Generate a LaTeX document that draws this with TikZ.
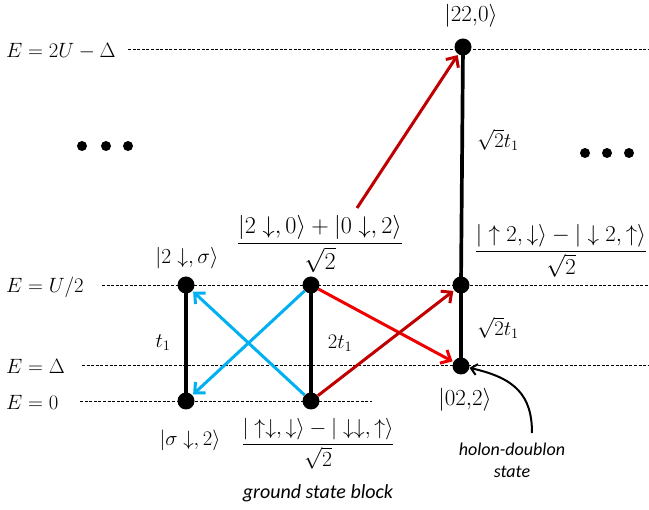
\RequirePackage{fix-cm}
\documentclass[tikz,border=0pt]{standalone}
\usepackage{amsmath}
\usepackage{fontspec}
\newfontfamily\calib{Carlito}
\usetikzlibrary{arrows.meta}
\definecolor{cblue}{HTML}{00B0F0}
\definecolor{cred}{HTML}{F00000}
\definecolor{dred}{HTML}{C00000}
\begin{document}
\begin{tikzpicture}[x=1pt,y=-1pt,
  every node/.style={font=\fontsize{20.7}{24}\selectfont},
  state/.style={circle,fill=black,inner sep=0pt,minimum size=17pt},
  level/.style={dash pattern=on 3pt off 1.6pt,line width=0.8pt},
  bond/.style={line width=3.7pt},
  hop/.style={line width=3pt,-{Straight Barb[length=8pt,width=15pt]},shorten >=1pt},
  frac/.style={inner sep=0pt},
  lbl/.style={font=\fontsize{18}{22}\selectfont\calib\itshape},
  dots/.style={circle,fill=black,inner sep=0pt,minimum size=10pt}]
\useasboundingbox (0,0) rectangle (649,510);
% level labels
\node[anchor=west,inner sep=0] (l1) at (6,51) {$E=2U-\Delta$};
\node[anchor=west,inner sep=0] (l2) at (6,287) {$E=U/2$};
\node[anchor=west,inner sep=0] (l3) at (6,366) {$E=\Delta$};
\node[anchor=west,inner sep=0] (l4) at (6,402) {$E=0$};
% dashed levels
\coordinate (d1a) at (128,49); \coordinate (d1b) at (649,49);
\coordinate (d2a) at (102,285); \coordinate (d2b) at (649,285);
\coordinate (d3a) at (82,365); \coordinate (d3b) at (649,365);
\coordinate (d4a) at (80,401); \coordinate (d4b) at (372,401);
\draw[level] (d1a) -- (d1b);
\draw[level] (d2a) -- (d2b);
\draw[level] (d3a) -- (d3b);
\draw[level] (d4a) -- (d4b);
% states
\node[state] (A) at (186,285) {};
\node[state] (B) at (186,401) {};
\node[state] (C) at (311,285) {};
\node[state] (D) at (311,401) {};
\node[state] (E) at (461,285) {};
\node[state] (F) at (461,366) {};
\node[state] (G) at (463,47) {};
% bonds
\draw[bond] (A.center) -- (B.center);
\draw[bond] (C.center) -- (D.center);
\draw[bond] (G.center) -- (E.center);
\draw[bond] (E.center) -- (F.center);
% hops
\draw[hop,cblue] (D) -- (A);
\draw[hop,cblue] (C) -- (B);
\draw[hop,cred] (C) -- (F);
\draw[hop,dred] (D) -- (E);
\coordinate (rs) at (357,208);
\draw[hop,dred] (rs) -- (G);
% holon-doublon pointer
\coordinate (hs) at (532,433);
\draw[line width=2pt,-{Straight Barb[length=6pt,width=11pt]}] (hs) .. controls (532,395) and (515,378) .. (F);
% dots
\node[dots] (p1) at (82,146) {};
\node[dots] (p2) at (106,146) {};
\node[dots] (p3) at (128,146) {};
\node[dots] (q1) at (585,153) {};
\node[dots] (q2) at (607,153) {};
\node[dots] (q3) at (629,153) {};
% labels
\node[font=\fontsize{23}{27}\selectfont] (nG) at (471,16) {$|22{,}0\rangle$};
\node[font=\fontsize{21.5}{25}\selectfont] (nA) at (187,258) {$|2\downarrow,\sigma\rangle$};
\node (nB) at (190,440) {$|\sigma\downarrow,2\rangle$};
\node[font=\fontsize{23}{27}\selectfont] (nF) at (465,400) {$|02{,}2\rangle$};
\node[frac,font=\fontsize{24.2}{28}\selectfont] (nC) at (320,244) {$\dfrac{|2\downarrow,0\rangle+|0\downarrow,2\rangle}{\sqrt{2}}$};
\node[frac,font=\fontsize{22.8}{27}\selectfont] (nE) at (561,251) {$\dfrac{|\uparrow2,\downarrow\rangle-|\downarrow2,\uparrow\rangle}{\sqrt{2}}$};
\node[frac,font=\fontsize{21.6}{25}\selectfont] (nD) at (318,444) {$\dfrac{|\uparrow\downarrow,\downarrow\rangle-|\downarrow\downarrow,\uparrow\rangle}{\sqrt{2}}$};
\node (tAB) at (163,343) {$t_1$};
\node (tCD) at (340,343) {$2t_1$};
\node (tGE) at (498,140) {$\sqrt{2}t_1$};
\node (tEF) at (498,328) {$\sqrt{2}t_1$};
\node[lbl,font=\fontsize{20}{24}\selectfont\calib\itshape] (gsb) at (318,493) {ground state block};
\node[lbl,align=center] (hd) at (512,460) {holon-doublon\\state};
\end{tikzpicture}
\end{document}
